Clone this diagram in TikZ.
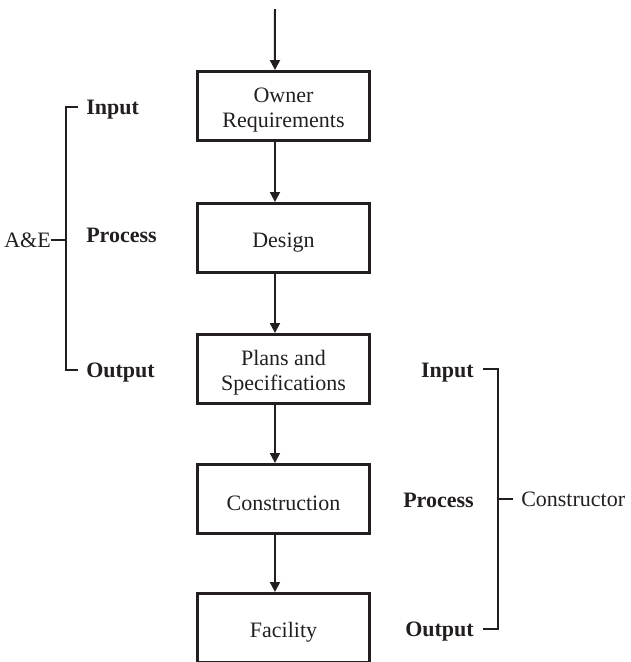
\documentclass[tikz,border=0pt]{standalone}
\usepackage{fontspec}
\setmainfont{Liberation Serif}
\usetikzlibrary{arrows.meta}
\definecolor{ink}{RGB}{35,31,32}
\newcommand{\lowerstrut}{\rule{0pt}{17.5pt}}
\begin{document}
\begin{tikzpicture}[x=0.75pt,y=-0.75pt,
  stage/.style={draw=ink, line width=2.25pt, minimum width=129pt, minimum height=51.75pt, inner sep=0pt, align=center, text=ink, font=\fontsize{16.5}{19}\selectfont},
  flow/.style={draw=ink, line width=1.5pt, -{Triangle[length=7.5pt,width=7.5pt]}},
  brace/.style={draw=ink, line width=1.2pt, line join=miter},
  lab/.style={text=ink, font=\fontsize{16.5}{19}\selectfont\bfseries, inner sep=0pt},
  side/.style={text=ink, font=\fontsize{16.5}{19}\selectfont, inner sep=0pt}]
\useasboundingbox (0,0) rectangle (631,662);

% stages
\node[stage] (owner) at (283.5,106) {\lowerstrut Owner\\Requirements};
\node[stage] (design) at (283.5,238) {\lowerstrut Design};
\node[stage] (plans) at (283.5,369) {\lowerstrut Plans and\\Specifications};
\node[stage] (constr) at (283.5,499) {\lowerstrut Construction};
\node[stage] (facil) at (283.5,628) {\lowerstrut Facility};

% flow arrows
\coordinate (start) at (275,9);
\draw[flow] (start) -- ([xshift=-6.4pt]owner.north);
\draw[flow] ([xshift=-6.4pt]owner.south) -- ([xshift=-6.4pt]design.north);
\draw[flow] ([xshift=-6.4pt]design.south) -- ([xshift=-6.4pt]plans.north);
\draw[flow] ([xshift=-6.4pt]plans.south) -- ([xshift=-6.4pt]constr.north);
\draw[flow] ([xshift=-6.4pt]constr.south) -- ([xshift=-6.4pt]facil.north);

% left bracket (A&E)
\node[lab, anchor=base west] (lin) at (86,114) {Input};
\node[lab, anchor=base west] (lproc) at (86,242) {Process};
\node[lab, anchor=base west] (lout) at (86,377) {Output};
\node[side, anchor=east] (ae) at (51,240) {A\&E};
\coordinate (lt0) at (78,107);
\coordinate (lt) at (66,107);
\coordinate (lb) at (66,370);
\coordinate (lb0) at (78,370);
\coordinate (lm) at (66,240);
\draw[brace] (lt0) -- (lt) -- (lb) -- (lb0);
\draw[brace] (ae.east) -- (lm);

% right bracket (Constructor)
\node[lab, anchor=base east] (rin) at (474,377) {Input};
\node[lab, anchor=base east] (rproc) at (474,507) {Process};
\node[lab, anchor=base east] (rout) at (474,636) {Output};
\node[side, anchor=west] (con) at (521,499) {Constructor};
\coordinate (rt0) at (483,369);
\coordinate (rt) at (498,369);
\coordinate (rb) at (498,629);
\coordinate (rb0) at (483,629);
\coordinate (rm) at (498,499);
\coordinate (rm0) at (513,499);
\draw[brace] (rt0) -- (rt) -- (rb) -- (rb0);
\draw[brace] (rm) -- (rm0);
\end{tikzpicture}
\end{document}
